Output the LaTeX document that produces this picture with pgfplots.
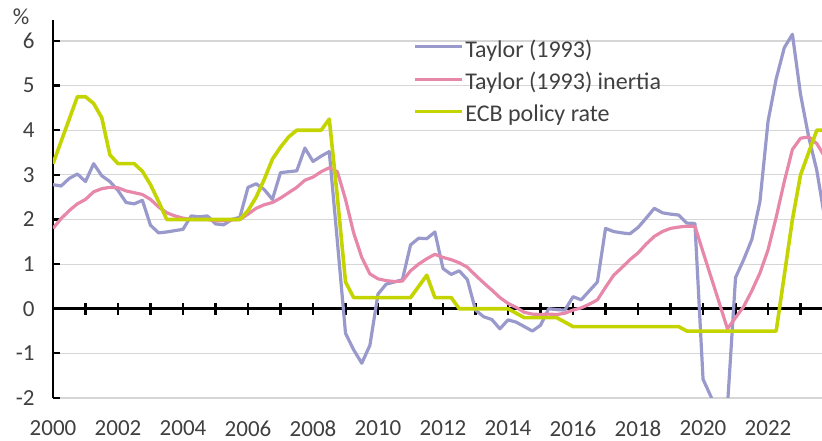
\documentclass[border=0pt]{standalone}
\usepackage{fontspec}
\setmainfont{Carlito}
\usepackage{pgfplots}
\pgfplotsset{compat=1.18}
\definecolor{tay}{RGB}{153,153,204}
\definecolor{tayi}{RGB}{231,135,170}
\definecolor{ecb}{RGB}{196,212,0}
\definecolor{txt}{RGB}{64,64,64}
\begin{document}
\begin{tikzpicture}
\begin{axis}[
  scale only axis, width=769pt, height=378pt,
  xmin=2000, xmax=2023.66, ymin=-2, ymax=6.47,
  axis y line*=left, axis x line*=bottom,
  x axis line style={draw=none},
  y axis line style={black, line width=2.4pt},
  xtick={2000,2002,2004,2006,2008,2010,2012,2014,2016,2018,2020,2022},
  xticklabels={2000,2002,2004,2006,2008,2010,2012,2014,2016,2018,2020,2022},
  xtick style={draw=none},
  ytick={-2,-1,0,1,2,3,4,5,6},
  yticklabels={-2,-1,0,1,2,3,4,5,6},
  ytick style={black, line width=2.2pt},
  tick align=inside, major tick length=7pt,
  ymajorgrids, grid style={draw=black!16, line width=1.2pt},
  font=\fontsize{23}{27}\selectfont,
  tick label style={text=txt},
  yticklabel style={xshift=-15pt},
  xticklabel style={yshift=-19pt},
  legend style={at={(rel axis cs:0.4688,0.954)}, anchor=north west, draw=none, fill=none,
    inner sep=0pt, row sep=9.5pt, font=\fontsize{24}{28}\selectfont,
    nodes={inner xsep=1.5pt, text=txt, anchor=west}},
  legend cell align=left,
  legend image code/.code={\draw[#1, line width=3.2pt] (0pt,0.25em) -- (47pt,0.25em);},
  line join=round,
]
\draw[black, line width=2.6pt] (axis cs:2000,0) -- (axis cs:2023.66,0);
\pgfplotsinvokeforeach{2001,2002,2003,2004,2005,2006,2007,2008,2009,2010,2011,2012,2013,2014,2015,2016,2017,2018,2019,2020,2021,2022,2023}{
  \draw[black, line width=2.2pt] (axis cs:#1,0) ++(0pt,-6pt) -- ++(0pt,12pt);
}
\addplot[tay, line width=3.2pt] coordinates {
(2000.00,2.78)(2000.25,2.75)(2000.50,2.92)(2000.75,3.02)
(2001.00,2.85)(2001.25,3.25)(2001.50,2.98)(2001.75,2.85)
(2002.00,2.65)(2002.25,2.38)(2002.50,2.35)(2002.75,2.43)
(2003.00,1.87)(2003.25,1.70)(2003.50,1.72)(2003.75,1.75)
(2004.00,1.78)(2004.25,2.08)(2004.50,2.06)(2004.75,2.08)
(2005.00,1.90)(2005.25,1.88)(2005.50,2.00)(2005.75,2.05)
(2006.00,2.72)(2006.25,2.80)(2006.50,2.67)(2006.75,2.45)
(2007.00,3.05)(2007.25,3.07)(2007.50,3.09)(2007.75,3.60)
(2008.00,3.30)(2008.25,3.42)(2008.50,3.52)(2008.75,1.50)
(2009.00,-0.55)(2009.25,-0.92)(2009.50,-1.22)(2009.75,-0.82)
(2010.00,0.33)(2010.25,0.55)(2010.50,0.60)(2010.75,0.65)
(2011.00,1.43)(2011.25,1.58)(2011.50,1.57)(2011.75,1.72)
(2012.00,0.90)(2012.25,0.77)(2012.50,0.85)(2012.75,0.65)
(2013.00,-0.03)(2013.25,-0.18)(2013.50,-0.24)(2013.75,-0.45)
(2014.00,-0.25)(2014.25,-0.30)(2014.50,-0.40)(2014.75,-0.50)
(2015.00,-0.37)(2015.25,0.00)(2015.50,-0.02)(2015.75,-0.03)
(2016.00,0.27)(2016.25,0.20)(2016.50,0.40)(2016.75,0.60)
(2017.00,1.80)(2017.25,1.73)(2017.50,1.70)(2017.75,1.68)
(2018.00,1.82)(2018.25,2.03)(2018.50,2.25)(2018.75,2.15)
(2019.00,2.12)(2019.25,2.10)(2019.50,1.92)(2019.75,1.91)
(2020.00,-1.58)(2020.25,-1.98)(2020.50,-7.00)(2020.75,-2.20)
(2021.00,0.70)(2021.25,1.10)(2021.50,1.55)(2021.75,2.40)
(2022.00,4.20)(2022.25,5.15)(2022.50,5.85)(2022.75,6.15)
(2023.00,4.80)(2023.25,3.85)(2023.50,3.10)(2023.75,2.00)
};
\addlegendentry{Taylor (1993)}
\addplot[tayi, line width=3.2pt] coordinates {
(2000.00,1.80)(2000.25,2.02)(2000.50,2.20)(2000.75,2.35)
(2001.00,2.45)(2001.25,2.62)(2001.50,2.69)(2001.75,2.72)
(2002.00,2.71)(2002.25,2.64)(2002.50,2.60)(2002.75,2.56)
(2003.00,2.45)(2003.25,2.28)(2003.50,2.15)(2003.75,2.08)
(2004.00,2.03)(2004.25,2.00)(2004.50,2.00)(2004.75,2.00)
(2005.00,1.97)(2005.25,1.97)(2005.50,1.99)(2005.75,2.00)
(2006.00,2.12)(2006.25,2.25)(2006.50,2.33)(2006.75,2.38)
(2007.00,2.48)(2007.25,2.60)(2007.50,2.72)(2007.75,2.88)
(2008.00,2.95)(2008.25,3.07)(2008.50,3.16)(2008.75,3.07)
(2009.00,2.45)(2009.25,1.70)(2009.50,1.15)(2009.75,0.78)
(2010.00,0.67)(2010.25,0.63)(2010.50,0.61)(2010.75,0.62)
(2011.00,0.85)(2011.25,1.00)(2011.50,1.12)(2011.75,1.22)
(2012.00,1.15)(2012.25,1.10)(2012.50,1.03)(2012.75,0.93)
(2013.00,0.75)(2013.25,0.58)(2013.50,0.42)(2013.75,0.25)
(2014.00,0.12)(2014.25,0.03)(2014.50,-0.08)(2014.75,-0.12)
(2015.00,-0.13)(2015.25,-0.12)(2015.50,-0.13)(2015.75,-0.10)
(2016.00,-0.03)(2016.25,0.02)(2016.50,0.10)(2016.75,0.20)
(2017.00,0.48)(2017.25,0.75)(2017.50,0.92)(2017.75,1.10)
(2018.00,1.25)(2018.25,1.45)(2018.50,1.62)(2018.75,1.73)
(2019.00,1.80)(2019.25,1.83)(2019.50,1.85)(2019.75,1.85)
(2020.00,1.27)(2020.25,0.70)(2020.50,0.13)(2020.75,-0.45)
(2021.00,-0.20)(2021.25,0.05)(2021.50,0.40)(2021.75,0.80)
(2022.00,1.32)(2022.25,2.05)(2022.50,2.85)(2022.75,3.57)
(2023.00,3.82)(2023.25,3.85)(2023.50,3.70)(2023.75,3.40)
};
\addlegendentry{Taylor (1993) inertia}
\addplot[ecb, line width=3.6pt] coordinates {
(2000.00,3.25)(2000.25,3.75)(2000.50,4.25)(2000.75,4.75)
(2001.00,4.75)(2001.25,4.60)(2001.50,4.28)(2001.75,3.45)
(2002.00,3.25)(2002.25,3.25)(2002.50,3.25)(2002.75,3.08)
(2003.00,2.78)(2003.25,2.40)(2003.50,2.00)(2003.75,2.00)
(2004.00,2.00)(2004.25,2.00)(2004.50,2.00)(2004.75,2.00)
(2005.00,2.00)(2005.25,2.00)(2005.50,2.00)(2005.75,2.00)
(2006.00,2.20)(2006.25,2.50)(2006.50,2.90)(2006.75,3.35)
(2007.00,3.62)(2007.25,3.85)(2007.50,4.00)(2007.75,4.00)
(2008.00,4.00)(2008.25,4.00)(2008.50,4.25)(2008.75,2.50)
(2009.00,0.60)(2009.25,0.25)(2009.50,0.25)(2009.75,0.25)
(2010.00,0.25)(2010.25,0.25)(2010.50,0.25)(2010.75,0.25)
(2011.00,0.25)(2011.25,0.50)(2011.50,0.75)(2011.75,0.25)
(2012.00,0.25)(2012.25,0.25)(2012.50,0.00)(2012.75,0.00)
(2013.00,0.00)(2013.25,0.00)(2013.50,0.00)(2013.75,0.00)
(2014.00,0.00)(2014.25,-0.10)(2014.50,-0.20)(2014.75,-0.20)
(2015.00,-0.20)(2015.25,-0.20)(2015.50,-0.20)(2015.75,-0.30)
(2016.00,-0.40)(2016.25,-0.40)(2016.50,-0.40)(2016.75,-0.40)
(2017.00,-0.40)(2017.25,-0.40)(2017.50,-0.40)(2017.75,-0.40)
(2018.00,-0.40)(2018.25,-0.40)(2018.50,-0.40)(2018.75,-0.40)
(2019.00,-0.40)(2019.25,-0.40)(2019.50,-0.50)(2019.75,-0.50)
(2020.00,-0.50)(2020.25,-0.50)(2020.50,-0.50)(2020.75,-0.50)
(2021.00,-0.50)(2021.25,-0.50)(2021.50,-0.50)(2021.75,-0.50)
(2022.00,-0.50)(2022.25,-0.50)(2022.50,0.75)(2022.75,2.00)
(2023.00,3.00)(2023.25,3.50)(2023.50,4.00)(2023.75,4.00)
};
\addlegendentry{ECB policy rate}
\end{axis}
\node[text=txt, font=\fontsize{23}{27}\selectfont] at (-32pt,381.5pt) {\%};
\pgfresetboundingbox
\path (-53pt,-43pt) rectangle (769pt,398pt);
\end{tikzpicture}
\end{document}
